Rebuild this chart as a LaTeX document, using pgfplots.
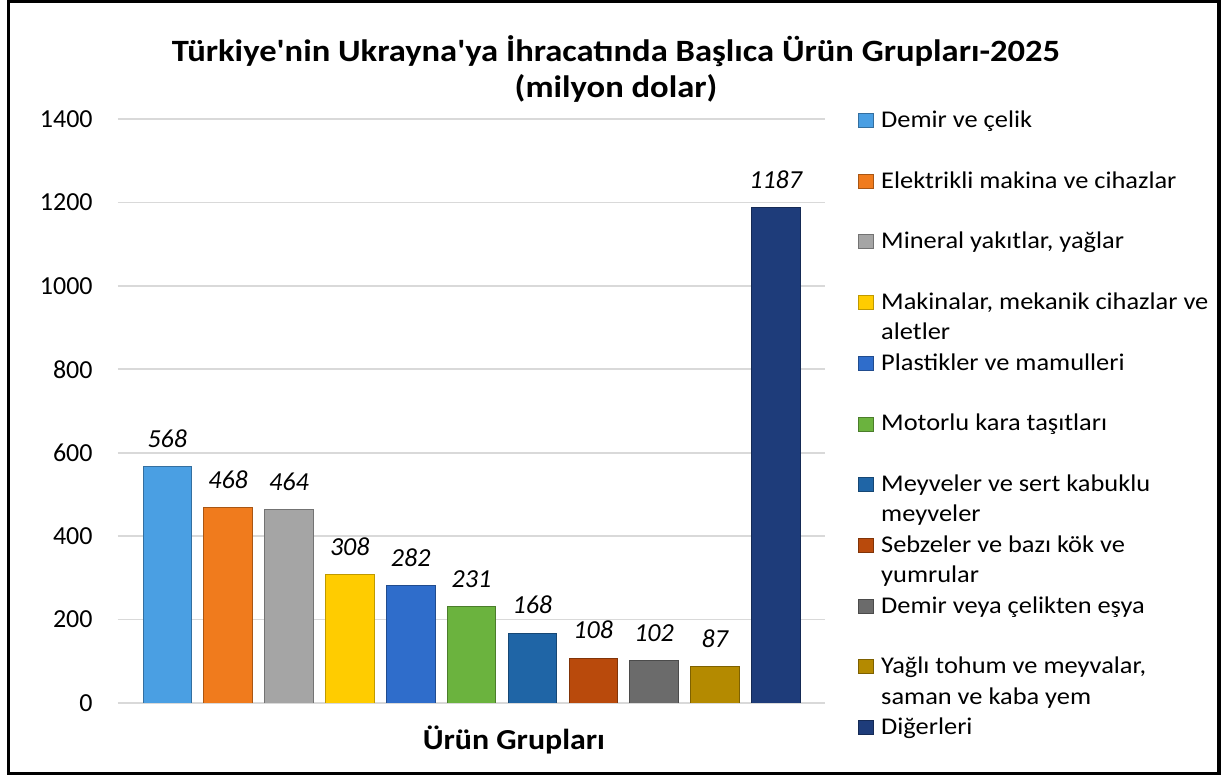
\documentclass[border=0pt]{standalone}
\usepackage{pgfplots}
\pgfplotsset{compat=1.18}
\usepackage{fontspec}
\setmainfont{Carlito}
\newfontfamily\lgfont[FakeStretch=1.1]{Carlito}
\newfontfamily\ttlfont[FakeStretch=1.115,Ligatures=TeXOff]{Carlito}
\newfontfamily\xlfont[FakeStretch=1.1]{Carlito}
\definecolor{c1}{HTML}{4A9FE3}
\definecolor{c2}{HTML}{F07B1D}
\definecolor{c3}{HTML}{A5A5A5}
\definecolor{c4}{HTML}{FFCC00}
\definecolor{c5}{HTML}{2F6DCB}
\definecolor{c6}{HTML}{6BB33E}
\definecolor{c7}{HTML}{1F65A6}
\definecolor{c8}{HTML}{B94A0C}
\definecolor{c9}{HTML}{6B6B6B}
\definecolor{c10}{HTML}{B48A00}
\definecolor{c11}{HTML}{1E3C7A}
\definecolor{gridgray}{HTML}{D9D9D9}
\newcommand{\lgone}[1]{\parbox[t]{175pt}{\lgfont\fontsize{12}{15.15}\selectfont\strut #1}}
\newcommand{\lgtwo}[2]{\parbox[t]{175pt}{\lgfont\fontsize{12}{15.15}\selectfont\strut #1\\\strut #2}}
\begin{document}
\begin{tikzpicture}
\useasboundingbox (0,0) rectangle (611.5pt,388pt);
\begin{axis}[
  at={(59pt,36.5pt)}, anchor=south west,
  scale only axis, width=353.5pt, height=292pt,
  xmin=-0.81, xmax=10.81, ymin=0, ymax=1400,
  ytick={0,200,400,600,800,1000,1200,1400},
  xtick=\empty,
  /pgf/number format/assume math mode=true,
  /pgf/number format/1000 sep={},
  ymajorgrids, grid style={draw=gridgray, line width=0.8pt},
  axis line style={draw=none},
  major tick length=0pt,
  yticklabel style={font=\fontsize{13}{15}\selectfont, anchor=east, inner sep=0pt, xshift=-12.5pt},
  ybar, bar width=24.25pt, bar shift=0pt,
  nodes near coords,
  every node near coord/.append style={font=\fontsize{13}{15}\selectfont\itshape, anchor=base, inner sep=0pt, yshift=9.5pt, text=black},
  xlabel={Ürün Grupları},
  xlabel style={at={(0.56,0)}, anchor=base, yshift=-23.5pt, font=\xlfont\bfseries\fontsize{14.5}{17}\selectfont, inner sep=0pt},
  title={Türkiye'nin Ukrayna'ya İhracatında Başlıca Ürün Grupları-2025\\(milyon dolar)},
  title style={at={(0.7044,1)}, anchor=south, yshift=2pt, align=center, inner sep=0pt, font=\ttlfont\bfseries\fontsize{15.5}{18.3}\selectfont},
  legend style={at={(1.04668,1.0226)}, anchor=north west, draw=none, fill=none, inner sep=0pt, row sep=18.25pt, column sep=3.5pt, cells={anchor=base west}, nodes={inner sep=0pt}},
  legend image code/.code={\fill[#1] (0pt,0pt) rectangle (7.5pt,7pt);},
]
\addplot[fill=c1, draw=c1!70!black] coordinates {(0,568)};
\addlegendentry{\lgone{Demir ve çelik}}
\addplot[fill=c2, draw=c2!70!black] coordinates {(1,468)};
\addlegendentry{\lgone{Elektrikli makina ve cihazlar}}
\addplot[fill=c3, draw=c3!70!black] coordinates {(2,464)};
\addlegendentry{\lgone{Mineral yakıtlar, yağlar}}
\addplot[fill=c4, draw=c4!75!black] coordinates {(3,308)};
\addlegendentry{\lgtwo{Makinalar, mekanik cihazlar ve}{aletler}}
\addplot[fill=c5, draw=c5!70!black] coordinates {(4,282)};
\addlegendentry{\lgone{Plastikler ve mamulleri}}
\addplot[fill=c6, draw=c6!70!black] coordinates {(5,231)};
\addlegendentry{\lgone{Motorlu kara taşıtları}}
\addplot[fill=c7, draw=c7!70!black] coordinates {(6,168)};
\addlegendentry{\lgtwo{Meyveler ve sert kabuklu}{meyveler}}
\addplot[fill=c8, draw=c8!70!black] coordinates {(7,108)};
\addlegendentry{\lgtwo{Sebzeler ve bazı kök ve}{yumrular}}
\addplot[fill=c9, draw=c9!70!black] coordinates {(8,102)};
\addlegendentry{\lgone{Demir veya çelikten eşya}}
\addplot[fill=c10, draw=c10!70!black] coordinates {(9,87)};
\addlegendentry{\lgtwo{Yağlı tohum ve meyvalar,}{saman ve kaba yem}}
\addplot[fill=c11, draw=c11!70!black] coordinates {(10,1187)};
\addlegendentry{\lgone{Diğerleri}}
\end{axis}
\draw[line width=1.65pt] (4.25pt,1.1pt) rectangle (609.5pt,387.2pt);
\end{tikzpicture}
\end{document}
